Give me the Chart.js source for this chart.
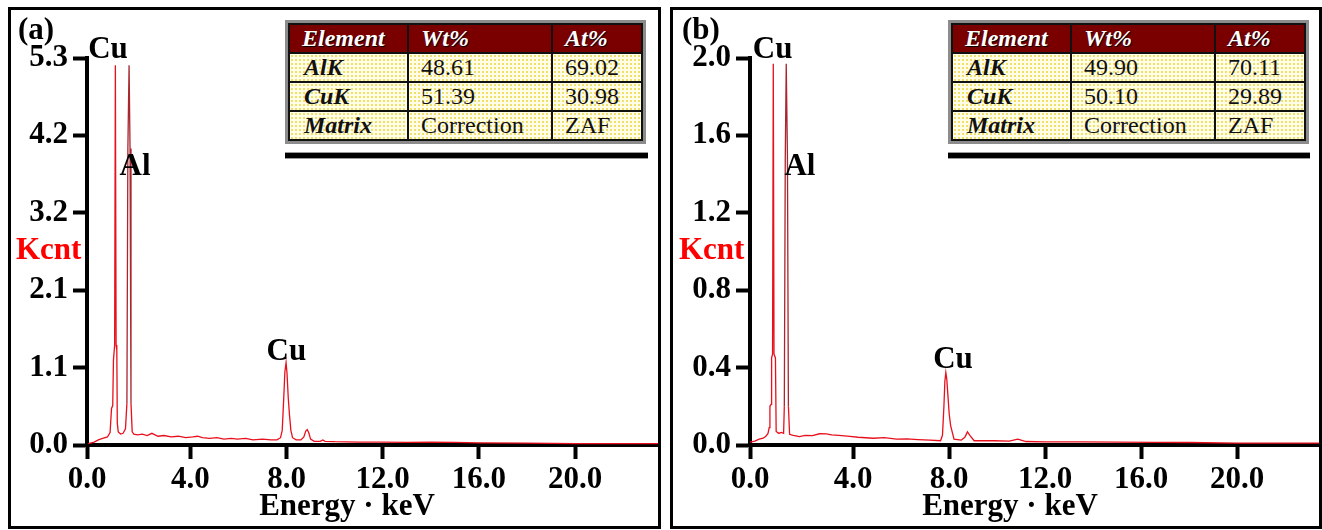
<!DOCTYPE html>
<html>
<head>
<meta charset="utf-8">
<script src="https://cdn.jsdelivr.net/npm/chart.js@4.4.1/dist/chart.umd.min.js"></script>
<style>
  body { margin: 0; background: #fff; }
  #page { position: relative; width: 1322px; height: 530px; overflow: hidden; background: #fff; }
  canvas { position: absolute; top: 0; }
  .frame { position: absolute; top: 7px; height: 522px; border: 3px solid #000; box-sizing: border-box; pointer-events: none; }
  .tbl { position: absolute; top: 20px; border: 3px solid #8c8c8c; background: #fff; }
  .tbl table { border-collapse: collapse; border: 2px solid #000; }
  .tbl td { border: 2px solid #111; height: 27px; padding: 0 0 0 12px; font: 24px 'Liberation Serif', serif; color: #111;
    background: #fffce8 radial-gradient(circle, #efe06a 0.9px, transparent 1.3px) 0 0 / 4px 4px; white-space: nowrap; }
  .tbl tr.hd td { background: #7a0000; color: #fff; font-weight: bold; font-style: italic; text-shadow: 1px 1px 1px #000; }
  .tbl td.el { font-weight: bold; font-style: italic; padding-left: 14px; }
  .rule { position: absolute; top: 152px; height: 5px; background: #000; border-top: 1px solid #999; border-bottom: 1px solid #999; }
</style>
</head>
<body>
<div id="page">
  <canvas id="chart-a" width="661" height="530" style="left:0"></canvas>
  <canvas id="chart-b" width="661" height="530" style="left:661px"></canvas>
  <div class="frame" style="left:8px; width:653px;"></div>
  <div class="frame" style="left:670px; width:652px;"></div>
  <div class="tbl" id="tbl-a" style="left:285px;"></div>
  <div class="rule" style="left:285px; width:363px;"></div>
  <div class="tbl" id="tbl-b" style="left:948px;"></div>
  <div class="rule" style="left:948px; width:362px;"></div>
</div>
<script>
const X_MIN = -0.3;
const X_MAX = 23.45;
const xTickValues = [0, 4, 8, 12, 16, 20];
const yTicksA = [0, 1.06, 2.12, 3.18, 4.24, 5.3];
const yTicksB = [0, 0.4, 0.8, 1.2, 1.6, 2.0];

// espectro (a)
const energyA = [-0.25, 0.0, 0.17, 0.35, 0.55, 0.66, 0.72, 0.77, 0.8, 0.85, 0.88, 0.91, 0.94, 0.96, 1.0, 1.1, 1.2, 1.3,
  1.36, 1.4, 1.45, 1.49, 1.53, 1.58, 1.65, 1.8, 2.0, 2.2, 2.4, 2.65, 2.9, 3.2, 3.5, 3.8, 4.1, 4.3, 4.5, 4.8, 5.1, 5.4,
  5.7, 5.95, 6.3, 6.6, 7.0, 7.35, 7.6, 7.75, 7.82, 7.88, 7.93, 7.98, 8.02, 8.07, 8.12, 8.18, 8.25, 8.4, 8.6, 8.72,
  8.8, 8.86, 8.92, 9.0, 9.15, 9.4, 9.51, 9.6, 10.0, 11.0, 12.0, 13.0, 14.0, 15.0, 16.0, 18.0, 20.0, 22.0, 23.45];
const countsA = [0.02, 0.04, 0.07, 0.09, 0.11, 0.17, 0.5, 0.54, 1.16, 1.37, 5.2, 1.37, 1.3, 0.3, 0.18, 0.15, 0.16, 0.22,
  0.57, 4.06, 5.2, 4.06, 0.57, 0.18, 0.15, 0.14, 0.15, 0.13, 0.16, 0.12, 0.13, 0.11, 0.12, 0.1, 0.11, 0.12, 0.1, 0.09, 0.1, 0.08,
  0.09, 0.08, 0.09, 0.07, 0.08, 0.07, 0.07, 0.1, 0.2, 0.62, 1.0, 1.13, 0.98, 0.65, 0.42, 0.2, 0.1, 0.07, 0.07, 0.11,
  0.19, 0.21, 0.17, 0.08, 0.05, 0.05, 0.07, 0.05, 0.045, 0.04, 0.04, 0.035, 0.04, 0.035, 0.03, 0.025, 0.02, 0.02, 0.02];

// espectro (b)
const energyB = [-0.3, -0.1, 0.08, 0.25, 0.36, 0.45, 0.5, 0.53, 0.58, 0.6, 0.64, 0.67, 0.7, 0.76, 0.79, 0.9, 1.0, 1.1,
  1.13, 1.17, 1.21, 1.26, 1.3, 1.35, 1.5, 1.76, 2.0, 2.3, 2.6, 2.88, 3.1, 3.4, 3.86, 4.2, 4.84, 5.3, 5.8, 6.24, 6.7, 7.2,
  7.64, 7.72, 7.78, 7.82, 7.86, 7.9, 7.95, 8.0, 8.06, 8.2, 8.5, 8.65, 8.76, 8.86, 9.04, 9.5, 9.87, 10.5, 10.86, 11.2,
  12.0, 13.5, 15.0, 16.5, 18.0, 20.0, 22.0, 23.45];
const countsB = [0.015, 0.02, 0.03, 0.035, 0.045, 0.06, 0.09, 0.2, 0.21, 0.45, 0.47, 1.97, 0.47, 0.45, 0.07, 0.06, 0.065, 0.06,
  0.2, 1.49, 1.97, 1.49, 0.2, 0.055, 0.05, 0.043, 0.05, 0.048, 0.058, 0.057, 0.052, 0.05, 0.045, 0.04, 0.035, 0.038, 0.03, 0.032, 0.028, 0.025,
  0.022, 0.05, 0.2, 0.33, 0.375, 0.34, 0.25, 0.16, 0.1, 0.03, 0.025, 0.04, 0.068, 0.05, 0.022, 0.022, 0.022, 0.02, 0.03, 0.018,
  0.016, 0.016, 0.015, 0.014, 0.013, 0.01, 0.01, 0.01];

// faixa do pico Al (keV), desenhada em vermelho escuro
const alBandA = [1.35, 1.54];
const alBandB = [1.12, 1.31];

// rotulos dos picos: [keV, Kcnt]
const peakNames = ['Cu', 'Al', 'Cu'];
const peakPosA = [[0.575, 5.3], [1.7, 3.7], [7.99, 1.16]];
const peakPosB = [[0.64, 2.0], [1.78, 1.395], [8.16, 0.398]];

// tabelas
const tableHead = ['Element', 'Wt%', 'At%'];
const tableRows = ['AlK', 'CuK', 'Matrix'];
const wtA = ['48.61', '51.39', 'Correction'];
const atA = ['69.02', '30.98', 'ZAF'];
const wtB = ['49.90', '50.10', 'Correction'];
const atB = ['70.11', '29.89', 'ZAF'];
const colWidths = [105, 130, 76];

const SERIF = "'Liberation Serif', 'Times New Roman', serif";
const tickFont = { family: SERIF, size: 31, weight: 'bold' };

const buildTable = (id, wt, at) => {
  let html = '<table><tr class="hd">';
  tableHead.forEach((h, i) => { html += `<td style="width:${colWidths[i]}px">${h}</td>`; });
  html += '</tr>';
  tableRows.forEach((r, i) => {
    html += `<tr><td class="el">${r}</td><td>${wt[i]}</td><td>${at[i]}</td></tr>`;
  });
  html += '</table>';
  document.getElementById(id).innerHTML = html;
};

//TEXTOS SOBRE O GRAFICO
const overlayText = {
  id: 'overlayText',
  afterDraw(chart, args, opts) {
    const { ctx, chartArea, scales: { x, y } } = chart;
    ctx.save();
    ctx.font = `bold 31px ${SERIF}`;
    ctx.textBaseline = 'alphabetic';
    ctx.textAlign = 'left';
    ctx.fillStyle = '#000';
    ctx.fillText(opts.tag, opts.tagX, 39);
    ctx.fillStyle = '#ff0000';
    ctx.fillText('Kcnt', opts.kcntX, 259);
    ctx.fillStyle = '#000';
    ctx.textAlign = 'center';
    ctx.fillText('Energy · keV', chartArea.left + 260, 515);
    peakNames.forEach((n, i) => {
      ctx.fillText(n, x.getPixelForValue(opts.pos[i][0]), y.getPixelForValue(opts.pos[i][1]));
    });
    ctx.restore();
  }
};

const showPanel = (canvasId, energy, counts, yTicks, alBand, leftWidth, padRight, tag, tagX, kcntX, pos) => {
  new Chart(document.getElementById(canvasId), {
    type: 'line',
    data: {
      datasets: [{
        data: energy.map((e, i) => ({ x: e, y: counts[i] })),
        borderColor: '#e8101c',
        borderWidth: 1.3,
        pointRadius: 0,
        tension: 0,
        fill: false,
        segment: {
          borderColor: (c) => (c.p0.parsed.x >= alBand[0] && c.p1.parsed.x <= alBand[1]) ? '#a8262e' : undefined
        }
      }]
    },
    options: {
      responsive: false,
      animation: false,
      devicePixelRatio: 1,
      layout: { padding: { top: 58, right: padRight, left: 0, bottom: 0 } },
      plugins: {
        legend: { display: false },
        tooltip: { enabled: false },
        overlayText: { tag, tagX, kcntX, pos }
      },
      scales: {
        x: {
          type: 'linear',
          min: X_MIN,
          max: X_MAX,
          afterBuildTicks: (s) => { s.ticks = xTickValues.map(v => ({ value: v === 0 ? X_MIN : v })); },
          afterFit: (s) => { s.height = 85; },
          ticks: { callback: (v) => Math.max(v, 0).toFixed(1), font: tickFont, color: '#000', padding: 2, maxRotation: 0, autoSkip: false },
          grid: { drawOnChartArea: false, tickLength: 14, tickWidth: 4, color: '#000' },
          border: { color: '#000', width: 4 }
        },
        y: {
          min: 0,
          max: yTicks[yTicks.length - 1],
          afterBuildTicks: (s) => { s.ticks = yTicks.map(v => ({ value: v })); },
          afterFit: (s) => { s.width = leftWidth; },
          ticks: { callback: (v) => v.toFixed(1), font: tickFont, color: '#000', padding: 5 },
          grid: { drawOnChartArea: false, tickLength: 14, tickWidth: 4, color: '#000' },
          border: { color: '#000', width: 4 }
        }
      }
    },
    plugins: [overlayText]
  });
};

buildTable('tbl-a', wtA, atA);
buildTable('tbl-b', wtB, atB);
showPanel('chart-a', energyA, countsA, yTicksA, alBandA, 87, 3, '(a)', 18, 16, peakPosA);
showPanel('chart-b', energyB, countsB, yTicksB, alBandB, 89, 2, '(b)', 21, 18, peakPosB);
</script>
</body>
</html>
